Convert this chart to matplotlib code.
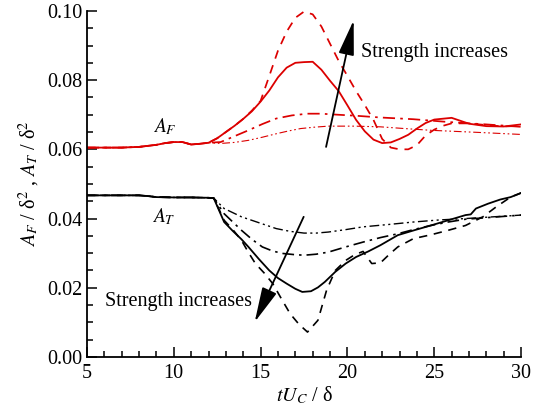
import numpy as np
import matplotlib
matplotlib.use('Agg')
import matplotlib.pyplot as plt
from matplotlib.ticker import MultipleLocator, FormatStrFormatter

plt.rcParams['font.family'] = ['Liberation Serif', 'DejaVu Serif']
plt.rcParams['mathtext.fontset'] = 'stix'

# #############################################################################
# Data

# A_F (red) - common start, before the curves split
af_base_x = [5, 7, 8, 9, 9.5, 10, 10.5, 11, 11.5, 12]
af_base_y = [0.0605, 0.0605, 0.0607, 0.0613, 0.0618, 0.0621, 0.0621, 0.0614, 0.0616, 0.0619]

af_dash_x = [12.5, 13, 13.5, 14, 14.5, 15, 15.5, 16, 16.5, 17, 17.5, 18, 18.5, 19, 19.5,
             20, 20.5, 21, 21.5, 22, 22.5, 23, 23.5, 24, 24.5, 25, 25.5, 26, 27, 28, 29, 30]
af_dash_y = [0.0632, 0.0650, 0.0668, 0.0688, 0.0712, 0.0740, 0.0812, 0.0885, 0.0940, 0.0980,
             0.0998, 0.0990, 0.0955, 0.0905, 0.0855, 0.0812, 0.0768, 0.0728, 0.0685, 0.0630,
             0.0605, 0.0600, 0.0600, 0.0612, 0.0640, 0.0657, 0.0668, 0.0675, 0.0675, 0.0670,
             0.0666, 0.0668]

af_solid_x = [12.5, 13, 13.5, 14, 14.5, 15, 15.5, 16, 16.5, 17, 17.5, 18, 18.5, 19, 19.5,
              20, 20.5, 21, 21.5, 22, 22.5, 23, 23.5, 24, 24.5, 25, 26, 27, 28, 29, 30]
af_solid_y = [0.0632, 0.0650, 0.0668, 0.0688, 0.0710, 0.0738, 0.0770, 0.0808, 0.0836, 0.0850,
              0.0852, 0.0853, 0.0830, 0.0798, 0.0768, 0.0727, 0.0685, 0.0652, 0.0628, 0.0618,
              0.0620, 0.0630, 0.0642, 0.0660, 0.0676, 0.0686, 0.0691, 0.0674, 0.0667, 0.0666,
              0.0672]

af_dd_x = [12.7, 13.5, 14.3, 15.1, 15.9, 16.8, 17.7, 18.5, 19.1, 20.5, 21.9, 23.8, 25.8, 28, 30]
af_dd_y = [0.0621, 0.0638, 0.0655, 0.0673, 0.0689, 0.0698, 0.0703, 0.0703, 0.0701, 0.0697,
           0.0692, 0.0687, 0.0679, 0.0672, 0.0665]

af_ddd_x = [12.7, 13.5, 14.3, 15.1, 15.9, 16.6, 17.3, 18.1, 18.9, 20.4, 21.9, 23.3, 24.8, 27.5, 30]
af_ddd_y = [0.0617, 0.0620, 0.0626, 0.0635, 0.0645, 0.0653, 0.0660, 0.0664, 0.0667, 0.0667,
            0.0665, 0.0660, 0.0655, 0.0649, 0.0643]

# A_T (black) - common start
at_base_x = [5, 7, 8, 8.5, 9, 10, 11, 12, 12.3]
at_base_y = [0.0467, 0.0467, 0.0467, 0.0465, 0.0462, 0.0461, 0.0461, 0.0460, 0.0459]

at_dash_x = [12.9, 13.4, 13.9, 14.3, 14.7, 15.2, 15.7, 16.2, 16.7, 17.2, 17.7, 18.3, 18.8,
             19.3, 19.9, 20.4, 20.9, 21.4, 21.9, 22.4, 22.9, 23.8, 24.8, 25.8, 26.8, 27.8,
             28.6, 29.4, 30]
at_dash_y = [0.0395, 0.0368, 0.0337, 0.0302, 0.0270, 0.0243, 0.0212, 0.0168, 0.0125, 0.0095,
             0.0072, 0.0106, 0.0193, 0.0250, 0.0279, 0.0295, 0.0305, 0.0270, 0.0272, 0.0296,
             0.0318, 0.0342, 0.0353, 0.0366, 0.0380, 0.0405, 0.0435, 0.0462, 0.0474]

at_solid_x = [12.9, 13.4, 13.9, 14.3, 14.9, 15.5, 16.0, 16.5, 17.0, 17.4, 17.9, 18.3, 18.7,
              19.3, 19.9, 20.5, 21.2, 21.9, 22.9, 23.9, 24.8, 25.8, 26.8, 27.1, 27.4, 28.1,
              28.8, 29.4, 30]
at_solid_y = [0.0390, 0.0364, 0.0340, 0.0318, 0.0283, 0.0250, 0.0228, 0.0212, 0.0197, 0.0188,
              0.0190, 0.0201, 0.0217, 0.0246, 0.0270, 0.0289, 0.0305, 0.0323, 0.0352, 0.0367,
              0.0380, 0.0395, 0.0410, 0.0412, 0.0429, 0.0443, 0.0455, 0.0462, 0.0474]

at_dd_x = [12.3, 12.9, 13.4, 13.9, 14.5, 15.1, 15.7, 16.3, 16.9, 17.5, 18.2, 18.9, 19.9,
           20.9, 21.9, 22.9, 23.8, 24.8, 25.8, 26.8, 28.4, 30]
at_dd_y = [0.0459, 0.0414, 0.0390, 0.0366, 0.0340, 0.0318, 0.0306, 0.0299, 0.0296, 0.0294,
           0.0297, 0.0303, 0.0318, 0.0332, 0.0345, 0.0356, 0.0368, 0.0380, 0.0390, 0.0398,
           0.0404, 0.0410]

at_ddd_x = [12.3, 12.9, 13.9, 14.9, 15.9, 16.7, 17.5, 18.2, 18.9, 19.9, 20.9, 22.4, 23.8,
            25.3, 26.8, 28.4, 30]
at_ddd_y = [0.0459, 0.0429, 0.0405, 0.0388, 0.0371, 0.0363, 0.0358, 0.0358, 0.0361, 0.0368,
            0.0376, 0.0383, 0.0390, 0.0396, 0.0400, 0.0405, 0.0410]

red = '#dc0000'

# #############################################################################
# Plot
fig = plt.figure(figsize=(5.4, 4.19), dpi=100)
ax = fig.add_axes([0.161, 0.148, 0.804, 0.826])

ax.plot(af_base_x + af_dash_x, af_base_y + af_dash_y, color=red, lw=1.25, dashes=(5, 4))
ax.plot(af_base_x + af_solid_x, af_base_y + af_solid_y, color=red, lw=1.3)
ax.plot(af_base_x + af_dd_x, af_base_y + af_dd_y, color=red, lw=1.25, dashes=(7, 3, 1.5, 3))
ax.plot(af_base_x + af_ddd_x, af_base_y + af_ddd_y, color=red, lw=0.8,
        dashes=(7, 2.5, 1.5, 2.5, 1.5, 2.5))

ax.plot(at_base_x + at_dash_x, at_base_y + at_dash_y, color='k', lw=1.2, dashes=(5, 4))
ax.plot(at_base_x + at_solid_x, at_base_y + at_solid_y, color='k', lw=1.3)
ax.plot(at_base_x + at_dd_x, at_base_y + at_dd_y, color='k', lw=1.2, dashes=(7, 3, 1.5, 3))
ax.plot(at_base_x + at_ddd_x, at_base_y + at_ddd_y, color='k', lw=1.0,
        dashes=(7, 2.5, 1.5, 2.5, 1.5, 2.5))

# labels on the curves
ax.text(9.5, 0.0665, r'$A_F$', fontsize=14, ha='center', va='center')
ax.text(9.4, 0.0405, r'$A_T$', fontsize=14, ha='center', va='center')

arrow = dict(arrowstyle='-|>,head_length=1.8,head_width=0.4', mutation_scale=12,
             color='k', lw=1.3, shrinkA=0, shrinkB=0)
ax.annotate('', xy=(20.36, 0.0973), xytext=(18.77, 0.0607), arrowprops=arrow)
ax.annotate('', xy=(14.66, 0.0101), xytext=(17.48, 0.0405), arrowprops=arrow)
ax.text(20.76, 0.0881, 'Strength increases', fontsize=14.5, va='center', ha='left')
ax.text(6.05, 0.0159, 'Strength increases', fontsize=14.5, va='center', ha='left')

ax.set_xlim(5, 30)
ax.set_ylim(0, 0.10)
ax.xaxis.set_major_locator(MultipleLocator(5))
ax.xaxis.set_minor_locator(MultipleLocator(1))
ax.yaxis.set_major_locator(MultipleLocator(0.02))
ax.yaxis.set_minor_locator(MultipleLocator(0.005))
ax.yaxis.set_major_formatter(FormatStrFormatter('%.2f'))

ax.spines['top'].set_visible(False)
ax.spines['right'].set_visible(False)
for s in ['left', 'bottom']:
    ax.spines[s].set_linewidth(1.3)
ax.tick_params(which='both', direction='in', width=1.1, labelsize=14.5)
ax.tick_params(which='major', length=7)
ax.tick_params(which='minor', length=4)
ax.tick_params(axis='x', pad=5)
ax.tick_params(axis='y', pad=3)

ax.set_xlabel(r'$tU_C$ / δ', fontsize=14.5, labelpad=1)
ax.set_ylabel(r'$A_F$ / δ$^2$ , $A_T$ / δ$^2$', fontsize=14.5, labelpad=4)

plt.savefig('out.png', dpi=100)
